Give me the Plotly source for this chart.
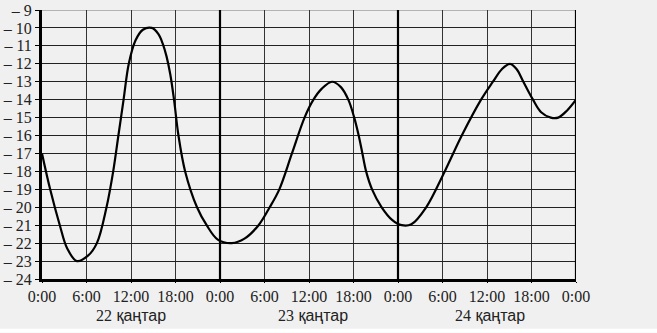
import plotly.graph_objects as go

# Time in hours from 22 January 0:00, temperature in °C
hours = [0, 1.1, 2.4, 3.4, 4.7, 6.2, 7.4, 8.7, 9.6, 10.3, 11.0, 11.7, 12.6, 13.6, 14.8, 15.7,
         16.3, 16.8, 17.3, 17.8, 18.4, 19.3, 20.9, 22.2, 23.7, 25.6, 27.3, 29.2, 30.7, 32.0, 33.7,
         35.4, 36.6, 37.7, 39.1, 40.3, 41.3, 42.1, 42.7, 43.2, 43.7, 44.5, 45.8, 47.2, 48.5,
         49.8, 51.8, 54.3, 56.6, 59.2, 60.8, 62.0, 63.1, 64.0, 64.9, 66.2, 67.3, 68.6, 69.6,
         70.8, 72.0]
temps = [-17.0, -19.0, -21.0, -22.3, -23.0, -22.7, -22.0, -20.0, -18.0, -16.0, -14.0, -12.0,
         -10.7, -10.1, -10.0, -10.35, -10.9, -11.6, -12.6, -14.0, -16.0, -18.0, -20.0, -21.0, -21.8,
         -22.0, -21.75, -21.0, -20.0, -19.0, -17.0, -15.0, -14.0, -13.4, -13.0, -13.3, -14.0,
         -15.0, -16.0, -17.0, -18.0, -19.0, -20.0, -20.7, -21.0, -20.95, -20.0, -18.0, -16.0,
         -14.0, -13.0, -12.3, -12.0, -12.3, -13.0, -14.0, -14.7, -15.0, -15.0, -14.6, -14.0]

x_tick_vals = [0, 6, 12, 18, 24, 30, 36, 42, 48, 54, 60, 66, 72]
x_tick_text = ["0:00", "6:00", "12:00", "18:00", "0:00", "6:00", "12:00", "18:00",
               "0:00", "6:00", "12:00", "18:00", "0:00"]
y_tick_vals = list(range(-24, -8))
y_tick_text = ["– %d" % abs(v) for v in y_tick_vals]
day_labels = ["22", "23", "24"]
day_word = "қаңтар"
day_label_hours = [12, 36.6, 60.4]
day_boundaries = [24, 48]

fig = go.Figure()
fig.add_trace(go.Scatter(x=hours, y=temps, mode="lines",
                         line=dict(color="black", width=2.2, shape="spline", smoothing=1.0),
                         hoverinfo="skip", showlegend=False))

shapes = []
for b in day_boundaries:
    shapes.append(dict(type="line", xref="x", yref="y", x0=b, x1=b, y0=-24, y1=-9,
                       line=dict(color="black", width=2.2), layer="above"))
# right border and top line
shapes.append(dict(type="line", xref="x", yref="y", x0=72, x1=72, y0=-24, y1=-9,
                   line=dict(color="black", width=2.2), layer="above"))
shapes.append(dict(type="line", xref="x", yref="y", x0=0, x1=72, y0=-9, y1=-9,
                   line=dict(color="#777777", width=1.2), layer="below"))
# white strip at bottom
shapes.append(dict(type="rect", xref="paper", yref="paper", x0=-0.1, x1=1.2,
                   y0=-0.2, y1=-0.185, fillcolor="white", line=dict(width=0), layer="below"))

annotations = []
for lab, h in zip(day_labels, day_label_hours):
    annotations.append(dict(
        x=h, y=0, xref="x", yref="paper", yanchor="top", xanchor="center", yshift=-26,
        text='<span style="font-family:Liberation Serif">%s</span> %s' % (lab, day_word),
        showarrow=False, font=dict(family="Liberation Sans", size=16, color="#222222")))

fig.update_layout(
    width=657, height=333,
    margin=dict(l=42, r=81, t=10, b=54),
    paper_bgcolor="#f0f0f0", plot_bgcolor="#f0f0f0",
    shapes=shapes, annotations=annotations,
    xaxis=dict(range=[0, 72], tickvals=x_tick_vals, ticktext=x_tick_text, automargin=False,
               showgrid=True, gridcolor="#333333", gridwidth=1.2,
               zeroline=False, showline=True, linecolor="black", linewidth=2.5,
               ticks="outside", ticklen=1, tickcolor="black",
               tickfont=dict(family="Liberation Serif", size=16, color="#222222")),
    yaxis=dict(range=[-24, -9], tickvals=y_tick_vals, ticktext=y_tick_text, automargin=False,
               showgrid=True, gridcolor="#222222", gridwidth=1.4,
               zeroline=False, showline=True, linecolor="black", linewidth=3,
               ticks="outside", ticklen=4, tickcolor="black",
               tickfont=dict(family="Liberation Serif", size=16, color="#222222")),
)

fig.write_html("out.html")
